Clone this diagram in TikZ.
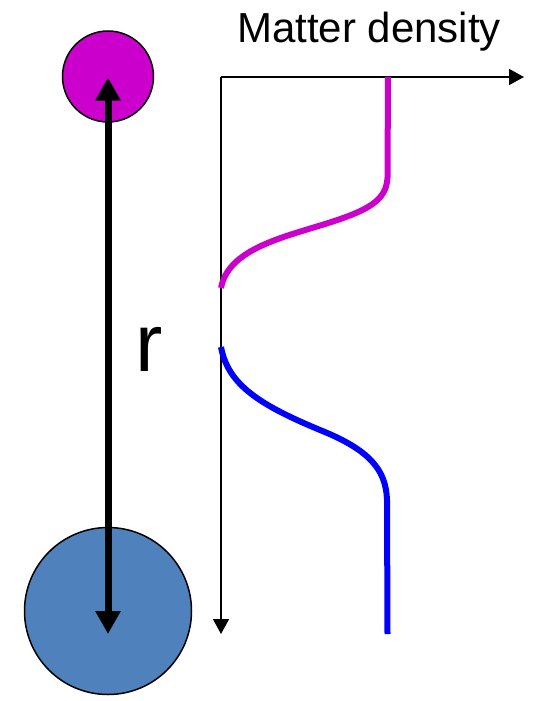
\documentclass[tikz,border=0pt]{standalone}
\usepackage{fontspec}
\setmainfont{Liberation Sans}
\usetikzlibrary{arrows.meta}
\definecolor{mag}{RGB}{204,0,204}
\definecolor{ballblue}{RGB}{79,129,189}
\definecolor{curveblue}{RGB}{0,0,255}
\begin{document}
\begin{tikzpicture}[x=1pt,y=-1pt,
  ball/.style={circle,draw=black,line width=1.5pt,inner sep=0pt},
  axis/.style={line width=1.5pt,-{Triangle[width=16pt,length=15pt]}},
  sep/.style={line width=7pt,{Triangle[width=24pt,length=23pt]}-{Triangle[width=24pt,length=23pt]}},
  prof/.style={line width=6pt}]
\useasboundingbox (0,0) rectangle (534,701);
% particles
\node[ball,fill=mag,minimum size=91pt] (top) at (108,76.5) {};
\node[ball,fill=ballblue,minimum size=167pt] (bot) at (108,611) {};
\coordinate (ta) at (108,77.5);
\coordinate (ba) at (108,634);
\draw[sep] (ta) -- (ba);
\node[anchor=base west,inner sep=0pt,font=\fontsize{82}{90}\selectfont] (r) at (135,371) {r};
% axes
\coordinate (o) at (221,77);
\coordinate (xe) at (524,77);
\coordinate (ye) at (221,634);
\draw[axis] (o) -- (xe);
\draw[axis] (o) -- (ye);
\node[anchor=base west,inner sep=0pt,font=\fontsize{42}{50}\selectfont] (lab) at (237,42.6) {Matter density};
% profiles
\coordinate (m0) at (388,77);
\coordinate (m1) at (387.5,178);
\coordinate (m2) at (325,224);
\coordinate (m3) at (221,288);
\draw[prof,mag] (m0) -- (m1) .. controls (386,200) and (370,210) .. (m2)
  .. controls (280,238) and (228,250) .. (m3);
\coordinate (b0) at (221,347);
\coordinate (b1) at (320,430);
\coordinate (b2) at (387,500);
\coordinate (b3) at (387.5,634);
\draw[prof,curveblue] (b0) .. controls (228,385) and (260,405) .. (b1)
  .. controls (370,450) and (386,470) .. (b2) -- (b3);
\end{tikzpicture}
\end{document}
